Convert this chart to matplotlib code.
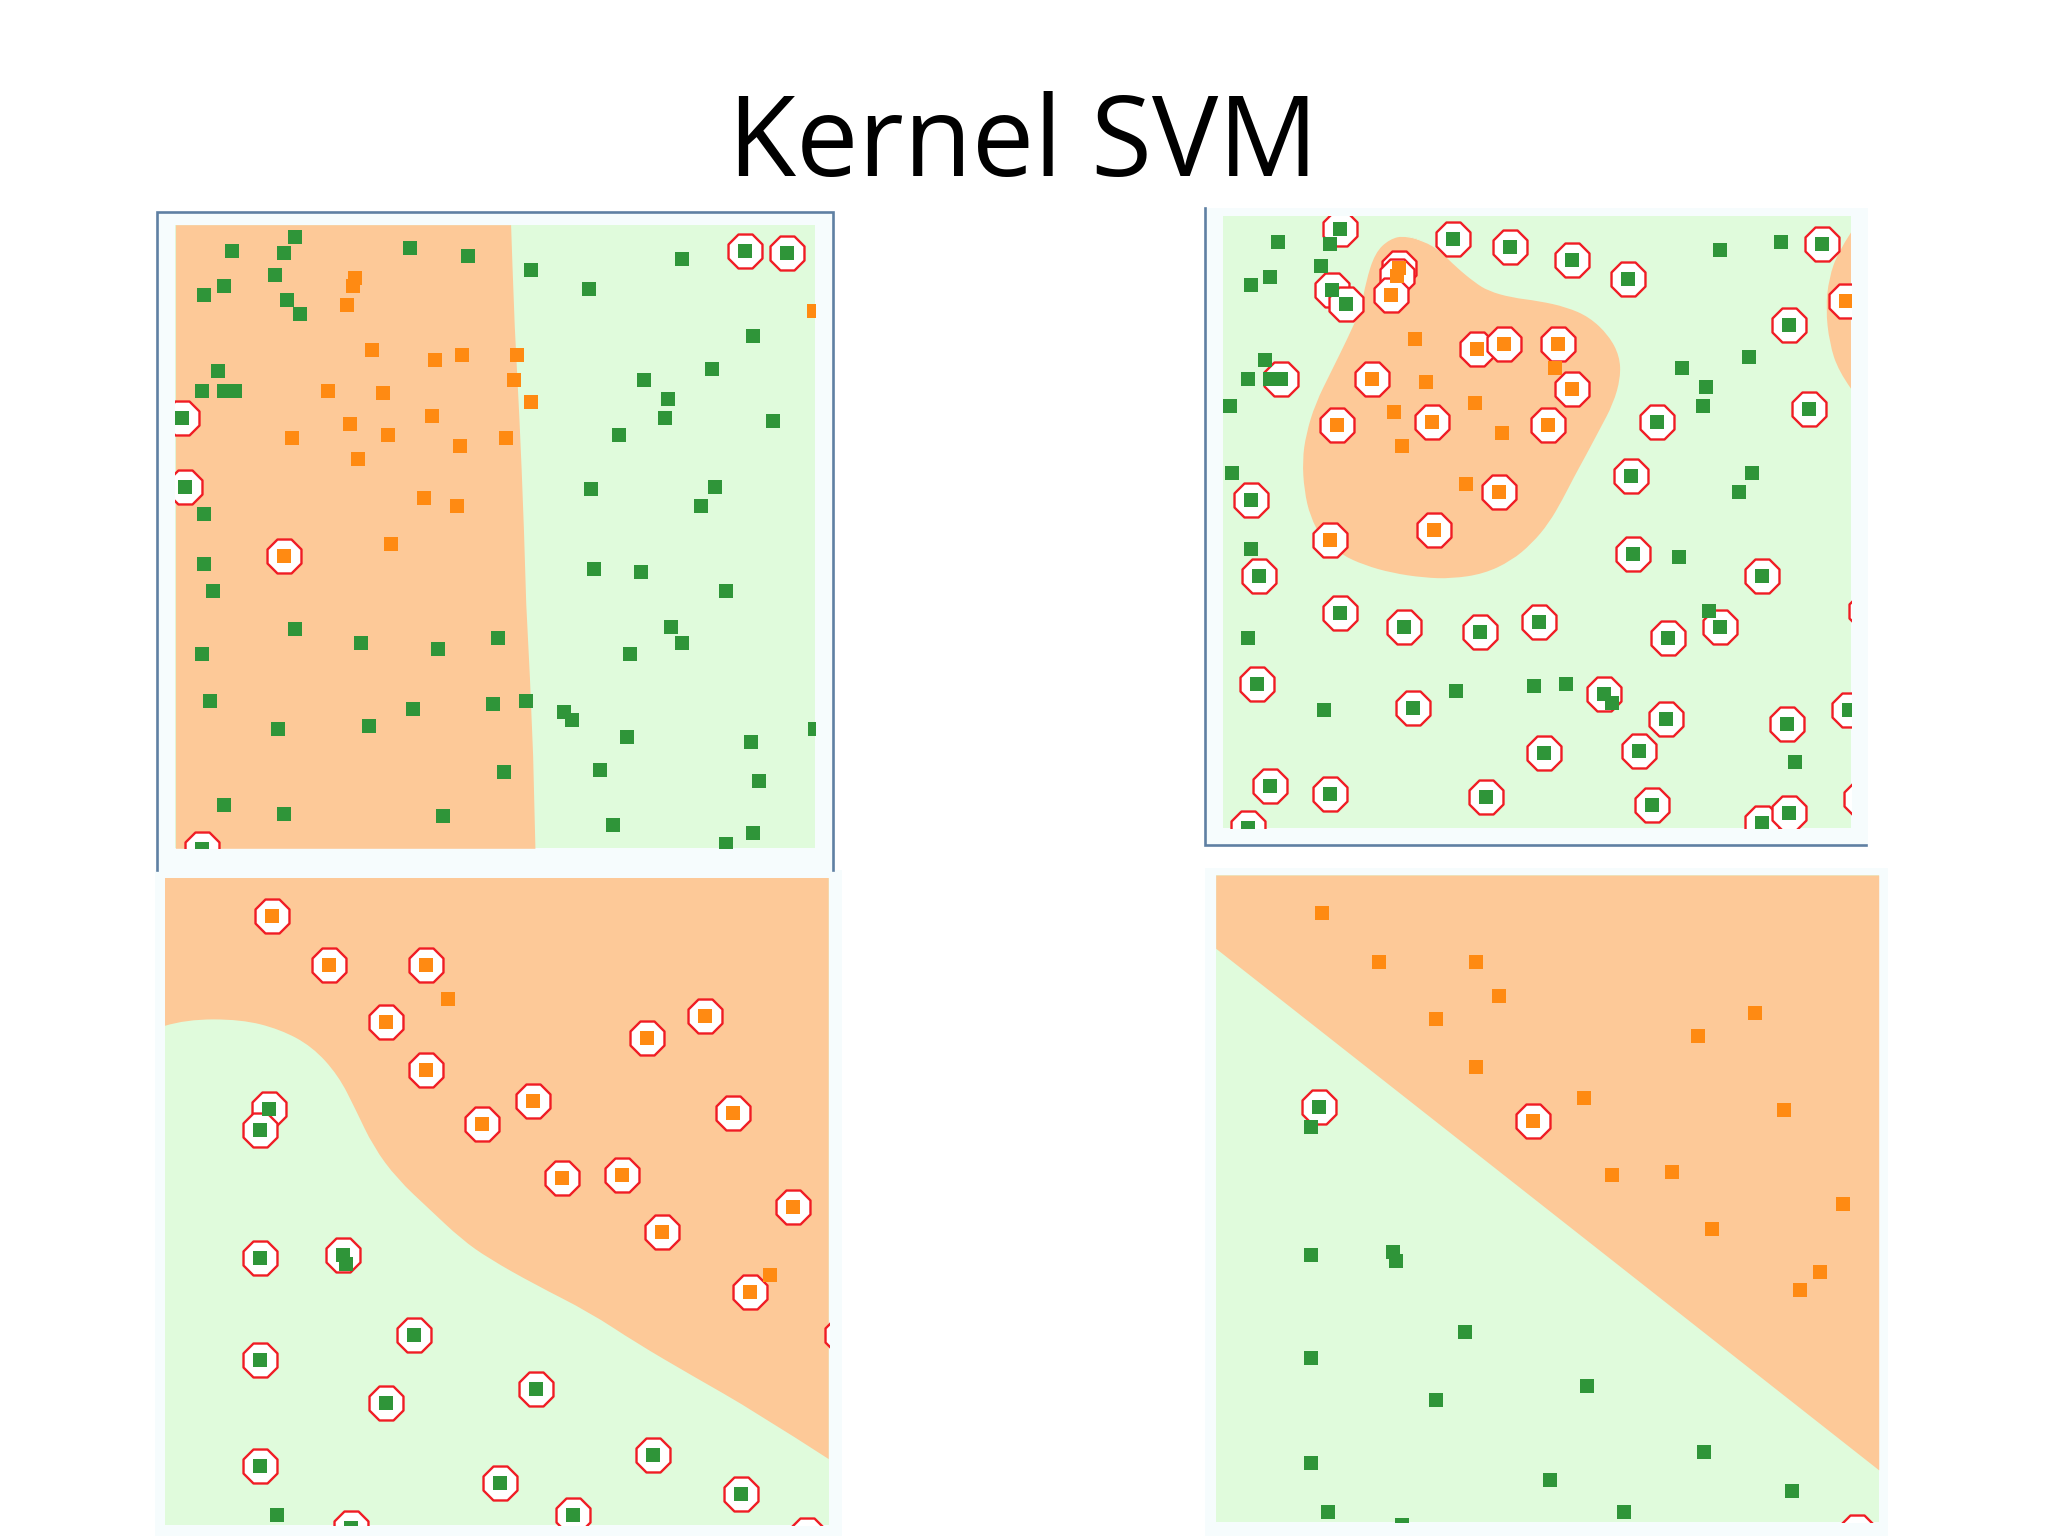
"""
Kernel SVM slide: four decision regions with support vectors ringed.
Point values are read off the picture, one panel scale per panel.
"""

import matplotlib
matplotlib.use('Agg')
import matplotlib.pyplot as plt
from matplotlib.patches import PathPatch
from matplotlib.path import Path
import numpy as np

# --- top left panel ---
a_green = [(338,85),(200,117),(313,123),(588,111),(714,129),(851,161),(1180,135),(295,174),(182,199),
           (140,218),(319,231),(349,263),(977,205),(1336,313),(1246,389),(1097,414),(1150,459),(1144,503),
           (1378,509),(1043,541),(170,395),(134,440),(182,440),(206,440),(140,725),(140,839),(158,902),
           (983,667),(1252,661),(1222,706),(989,851),(1091,858),(1276,902),(337,990),(481,1022),(648,1035),
           (780,1010),(134,1048),(1156,984),(1180,1022),(1067,1048),(152,1156),(594,1174),(768,1162),
           (840,1156),(923,1181),(941,1200),(301,1219),(499,1213),(1061,1238),(1330,1250),(1470,1219),
           (792,1320),(1001,1314),(1348,1339),(182,1396),(313,1415),(660,1421),(1031,1441),(1336,1459),
           (1276,1484)]
a_green_sv = [(1318,117),(1408,123),(92,503),(98,661),(134,1497)]
a_orange = [(469,180),(463,199),(451,243),(1467,256),(505,345),(642,370),(702,358),(822,358),(815,414),
            (851,465),(409,440),(529,446),(636,497),(457,516),(541,541),(331,548),(696,567),(798,548),
            (475,598),(618,687),(690,706),(547,794)]
a_orange_sv = [(314,820)]
a_edge = [(807,57),(810,150),(815,290),(825,500),(830,620),(835,760),(840,930),(848,1100),(855,1280),(860,1495)]

# --- top right panel ---
b_green = [(192,97),(304,102),(286,152),(174,177),(134,195),(1154,115),(1288,97),(163,370),(127,413),
           (175,413),(87,475),(1072,388),(1218,363),(1125,432),(1118,475),(92,630),(1224,630),(1195,674),
           (134,805),(1066,823),(1130,947),(127,1010),(579,1133),(749,1121),(820,1115),(919,1159),(291,1177),
           (1318,1295)]
b_green_sv = [(327,66),(572,90),(697,108),(832,139),(955,183),(1377,102),(310,208),(339,239),(198,413),
              (1306,289),(1348,481),(1018,513),(960,636),(134,692),(965,817),(151,866),(1247,866),(327,953),
              (467,985),(631,997),(761,972),(1042,1009),(1154,985),(145,1115),(902,1140),(485,1171),(1037,1196),
              (1300,1208),(1436,1177),(772,1276),(978,1270),(174,1351),(304,1369),(644,1376),(1007,1394),
              (1247,1437),(1306,1413),(127,1449),(1462,1382),(1473,947)]
b_orange = [(491,320),(515,420),(795,388),(620,469),(444,488),(679,537),(461,568),(602,656)]
b_orange_sv = [(455,158),(450,176),(438,220),(625,344),(685,332),(802,332),(397,413),(832,437),(320,518),
               (527,513),(779,518),(673,674),(532,761),(304,785),(1430,233)]
b_blob = [(470,82),(510,95),(545,118),(580,155),(620,190),(650,210),(700,225),(760,233),(820,247),(870,270),
          (912,312),(936,360),(938,410),(922,470),(892,530),(862,590),(836,640),(812,690),(782,745),(745,792),
          (700,832),(640,862),(570,873),(510,871),(440,860),(380,842),(330,818),(288,782),(262,730),(249,670),
          (245,600),(253,540),(273,470),(308,395),(343,320),(373,250),(383,190),(403,122),(435,90)]
b_blob_right = [(1440,75),(1412,120),(1392,180),(1385,250),(1393,330),(1413,395),(1440,435)]

# --- bottom left panel ---
c_green = [(448,937),(299,1519)]
c_green_sv = [(281,579),(262,627),(262,923),(442,917),(597,1102),(262,1161),(535,1260),(863,1227),(262,1406),
              (1118,1380),(783,1445),(1310,1472),(944,1519),(459,1550),(1453,1565)]
c_orange = [(671,322),(1372,963)]
c_orange_sv = [(288,131),(411,243),(622,243),(535,375),(622,487),(857,560),(745,613),(1230,362),(1105,414),
               (1291,587),(919,738),(1049,732),(1136,864),(1422,805),(1329,1002),(1530,1102)]
c_edge = [(54,385),(100,370),(220,370),(305,393),(375,433),(432,500),(470,580),(508,665),(560,740),(630,810),
          (700,880),(760,925),(860,985),(980,1050),(1080,1120),(1200,1195),(1340,1280),(1500,1390)]

# --- bottom right panel ---
d_green = [(263,620),(263,917),(443,910),(449,931),(598,1095),(263,1155),(536,1254),(865,1220),(263,1399),
           (1119,1373),(784,1439),(1311,1465),(300,1512),(945,1512),(461,1543)]
d_green_sv = [(282,573),(1453,1558)]
d_orange = [(288,124),(412,236),(623,236),(672,316),(536,369),(623,481),(1230,356),(1106,408),(858,553),
            (1293,580),(920,732),(1050,725),(1137,857),(1423,798),(1373,957),(1329,997)]
d_orange_sv = [(747,606)]
d_edge = [(56,205),(1500,1415)]

GREEN = '#2f9539'
ORANGE = '#ff8a12'
RED = '#f01c24'
LIGHT_GREEN = '#e0fbdc'
LIGHT_ORANGE = '#fdc998'
HALO = '#f6fcfd'
FRAME = '#5f80a3'

W, H = 2048, 1536

fig = plt.figure(figsize=(W / 100, H / 100), dpi=100)
fig.patch.set_facecolor('white')

# full page axes in pixels, for the pale surround, frames and title
page = fig.add_axes([0, 0, 1, 1])
page.set_xlim(0, W)
page.set_ylim(H, 0)
page.axis('off')
for x0, y0, x1, y1 in [(157, 212, 833, 870), (1205, 208, 1868, 845),
                       (155, 870, 842, 1536), (1205, 868, 1888, 1536)]:
    page.fill([x0, x1, x1, x0], [y0, y0, y1, y1], color=HALO, lw=0)
page.plot([157, 157, 833, 833], [870, 212, 212, 870], color=FRAME, lw=1.9, solid_joinstyle='miter')
page.plot([1205, 1205, 1866], [208, 845, 845], color=FRAME, lw=1.9, solid_joinstyle='miter')
page.text(1023, 176, 'Kernel SVM', family='Open Sans', fontsize=80, color='black', ha='center', va='baseline')


def panel(px, xlim, ylim):
    """Axes at a pixel box (x0, y0, x1, y1), using the read-off scale as its data range"""
    x0, y0, x1, y1 = px
    ax = fig.add_axes([x0 / W, 1 - y1 / H, (x1 - x0) / W, (y1 - y0) / H])
    ax.set_xlim(*xlim)
    ax.set_ylim(*ylim)
    ax.set_facecolor(LIGHT_GREEN)
    ax.set_xticks([])
    ax.set_yticks([])
    for s in ax.spines.values():
        s.set_visible(False)
    return ax


def curved(pts, tail=()):
    """Smooth path using pts as quadratic control points, closed through the tail corners"""
    pts = np.array(pts, dtype=float)
    verts = [pts[0]]
    codes = [Path.MOVETO]
    for i in range(1, len(pts) - 1):
        end = pts[i + 1] if i == len(pts) - 2 else (pts[i] + pts[i + 1]) / 2
        verts += [pts[i], end]
        codes += [Path.CURVE3, Path.CURVE3]
    for corner in tail:
        verts.append(corner)
        codes.append(Path.LINETO)
    verts.append(pts[0])
    codes.append(Path.CLOSEPOLY)
    return Path(verts, codes)


def draw_points(ax, green, green_sv, orange, orange_sv):
    for pts in (green_sv, orange_sv):
        xy = np.array(pts)
        ax.scatter(xy[:, 0], xy[:, 1], marker='8', s=700, facecolor='white', edgecolor=RED, linewidth=1.7, zorder=3)
    for pts, col in ((green + green_sv, GREEN), (orange + orange_sv, ORANGE)):
        xy = np.array(pts)
        ax.scatter(xy[:, 0], xy[:, 1], marker='s', s=100, color=col, linewidth=0, zorder=4)


# top left: orange left of a nearly straight edge
ax_a = panel((175.4, 224.7, 815, 848.3), (77, 1470), (1495, 57))
edge = np.array(a_edge)
ax_a.fill_betweenx(edge[:, 1], 77, edge[:, 0], color=LIGHT_ORANGE, lw=0)
draw_points(ax_a, a_green, a_green_sv, a_orange, a_orange_sv)

# top right: RBF blob
ax_b = panel((1223, 216, 1851, 828), (72, 1440), (1448, 37))
ax_b.add_patch(PathPatch(curved(b_blob + b_blob[:2]), color=LIGHT_ORANGE, lw=0))
ax_b.add_patch(PathPatch(curved(b_blob_right), color=LIGHT_ORANGE, lw=0))
draw_points(ax_b, b_green, b_green_sv, b_orange, b_orange_sv)

# bottom left: curved edge, orange above
ax_c = panel((164.8, 878, 828.7, 1524.6), (54, 1500), (1542, 42))
ax_c.add_patch(PathPatch(curved(c_edge, tail=[(1500, 42), (54, 42)]), color=LIGHT_ORANGE, lw=0))
draw_points(ax_c, c_green, c_green_sv, c_orange, c_orange_sv)

# bottom right: straight edge, orange above
ax_d = panel((1215.7, 875, 1878.7, 1521.6), (56, 1500), (1535, 35))
edge = np.array(d_edge)
ax_d.fill_between(edge[:, 0], 35, edge[:, 1], color=LIGHT_ORANGE, lw=0)
draw_points(ax_d, d_green, d_green_sv, d_orange, d_orange_sv)

fig.savefig('out.png', dpi=100, facecolor='white')
plt.close(fig)
